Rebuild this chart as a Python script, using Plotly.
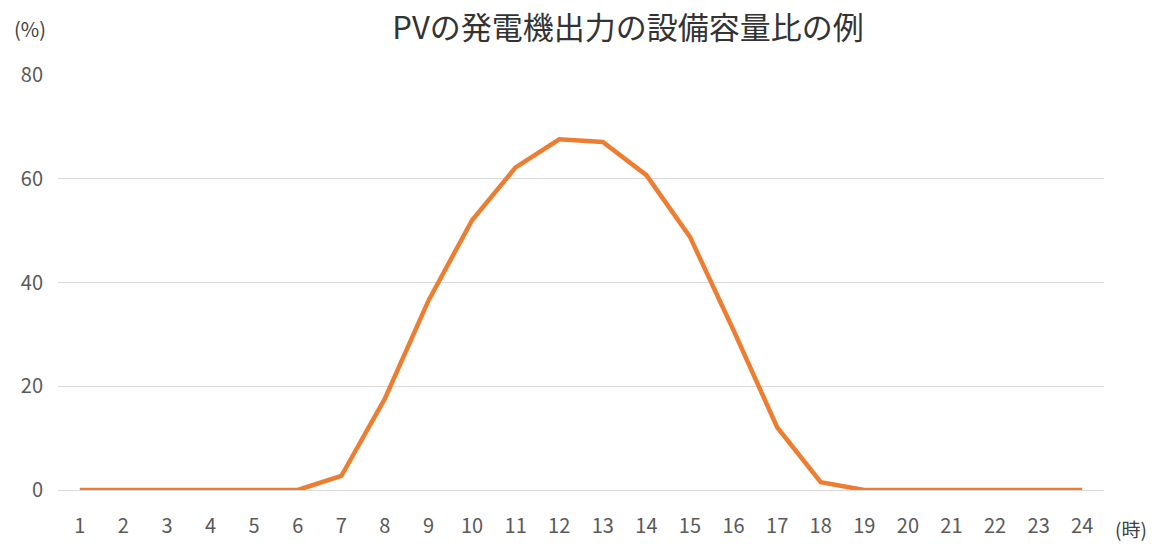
import plotly.graph_objects as go

hours = list(range(1, 25))
output_pct = [0, 0, 0, 0, 0, 0, 2.7, 17.6, 36.5, 52.0, 62.2, 67.6, 67.1, 60.7, 48.8, 30.8, 12.1, 1.5,
              0, 0, 0, 0, 0, 0]
tick_labels = [str(h) for h in hours]
title_text = "PVの発電機出力の設備容量比の例"
y_unit = "(%)"
x_unit = "(時)"

FONT = "Noto Sans CJK JP, Noto Sans, sans-serif"

fig = go.Figure()
fig.add_trace(go.Scatter(
    x=hours, y=output_pct, mode="lines",
    line=dict(color="#ED7D31", width=4.5),
    hoverinfo="x+y", showlegend=False,
))

fig.update_layout(
    width=1152, height=544,
    margin=dict(l=58, r=48, t=75, b=54, autoexpand=False),
    paper_bgcolor="white", plot_bgcolor="white",
    title=dict(text=title_text, x=628/1152, xanchor="center",
               y=1 - 28/544, yanchor="middle", yref="container",
               font=dict(family=FONT, size=31, color="#333333")),
    font=dict(family=FONT, color="#595959"),
    xaxis=dict(
        range=[0.5, 24.5], tickvals=hours, ticktext=tick_labels,
        showgrid=False, zeroline=False, automargin=False,
        showline=True, linecolor="#D9D9D9", linewidth=1,
        ticks="", tickfont=dict(family=FONT, size=20, color="#595959"),
        ticklabelstandoff=18, fixedrange=True,
    ),
    yaxis=dict(
        range=[0, 80], tickvals=[0, 20, 40, 60, 80], automargin=False,
        showgrid=True, gridcolor="#D9D9D9", gridwidth=1,
        zeroline=False, showline=False, ticks="",
        tickfont=dict(family=FONT, size=20, color="#595959"),
        ticklabelstandoff=14, fixedrange=True,
    ),
    annotations=[
        dict(text=y_unit, xref="paper", yref="paper",
             x=(30 - 58) / 1046, y=(490 - 29) / 415,
             xanchor="center", yanchor="middle", showarrow=False,
             font=dict(family=FONT, size=20, color="#404040")),
        dict(text=x_unit, xref="paper", yref="paper",
             x=(1131 - 58) / 1046, y=(490 - 528) / 415,
             xanchor="center", yanchor="middle", showarrow=False,
             font=dict(family=FONT, size=19, color="#404040")),
    ],
)

fig.write_html("out.html",
               config={"displayModeBar": False},
               post_script="document.body.style.margin='0';document.body.style.overflow='hidden';")
